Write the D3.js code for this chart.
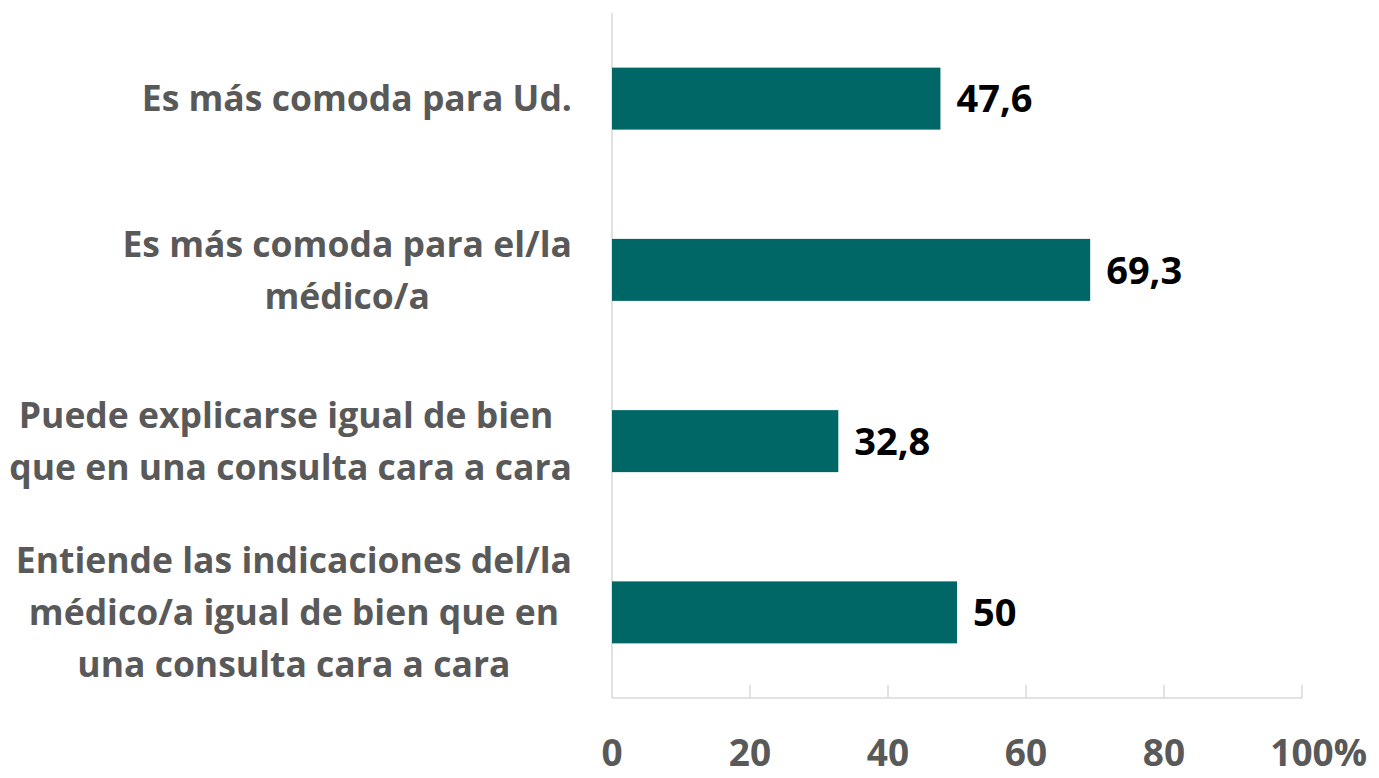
<!DOCTYPE html>
<meta charset="utf-8">
<html>
<head>
<title>Bar chart</title>
<script src="https://d3js.org/d3.v7.min.js"></script>
<style>
body { margin: 0; background: #fff; }
text { font-family: "Open Sans", sans-serif; font-weight: bold; }
.cat { fill: #595959; font-size: 35.5px; }
.val { fill: #000; font-size: 38px; }
.tick-label { fill: #595959; font-size: 37px; }
</style>
</head>
<body>
<svg width="1379" height="778"></svg>
<script>

// data
var categories = [
  ["Es más comoda para Ud."],
  ["Es más comoda para el/la", "médico/a"],
  ["Puede explicarse igual de bien ", "que en una consulta cara a cara"],
  ["Entiende las indicaciones del/la", "médico/a igual de bien que en", "una consulta cara a cara"]
];
var values = [47.6, 69.3, 32.8, 50];
var valueLabels = ["47,6", "69,3", "32,8", "50"];
var tickValues = [0, 20, 40, 60, 80, 100];

var svg = d3.select("svg");

var x = d3.scaleLinear().domain([0, 100]).range([612, 1302]);
var y = d3.scaleBand()
    .domain(d3.range(categories.length))
    .range([13, 698])
    .paddingInner(0.638)
    .paddingOuter(0.319);

// axis lines
svg.append("line")
    .attr("x1", x(0)).attr("x2", x(0))
    .attr("y1", 13).attr("y2", 698)
    .attr("stroke", "#d9d9d9").attr("stroke-width", 1.5);
svg.append("line")
    .attr("x1", x(0)).attr("x2", x(100))
    .attr("y1", 698).attr("y2", 698)
    .attr("stroke", "#d9d9d9").attr("stroke-width", 1.5);

svg.selectAll(".tk")
    .data(tickValues.slice(1))
    .enter().append("line")
    .attr("x1", function(d) { return x(d); })
    .attr("x2", function(d) { return x(d); })
    .attr("y1", 685).attr("y2", 698)
    .attr("stroke", "#d9d9d9").attr("stroke-width", 1.5);

// tick labels, "%" hangs after the last one
var tl = svg.selectAll(".tick-label")
    .data(tickValues)
    .enter().append("text")
    .attr("class", "tick-label")
    .attr("x", function(d) { return x(d); })
    .attr("y", 766)
    .attr("text-anchor", "middle")
    .text(function(d) { return d; });

var last = tl.filter(function(d) { return d === 100; }).node();
var w = last.getComputedTextLength();
svg.append("text")
    .attr("class", "tick-label")
    .attr("x", x(100) + w / 2)
    .attr("y", 766)
    .text("%");

// bars
svg.selectAll(".bar")
    .data(values)
    .enter().append("rect")
    .attr("class", "bar")
    .attr("x", x(0))
    .attr("y", function(d, i) { return y(i); })
    .attr("width", function(d) { return x(d) - x(0); })
    .attr("height", y.bandwidth())
    .attr("fill", "#006766");

svg.selectAll(".val")
    .data(values)
    .enter().append("text")
    .attr("class", "val")
    .attr("x", function(d) { return x(d) + 16; })
    .attr("y", function(d, i) { return y(i) + y.bandwidth() / 2; })
    .attr("dy", "0.36em")
    .text(function(d, i) { return valueLabels[i]; });

// category labels: block right aligned, lines centred in the block
var lineH = 52;
categories.forEach(function(lines, i) {
  var g = svg.append("text").attr("class", "cat").attr("text-anchor", "middle");
  var cy = y(i) + y.bandwidth() / 2;
  var top = cy - (lines.length - 1) * lineH / 2;
  var spans = lines.map(function(s, j) {
    return g.append("tspan").attr("y", top + j * lineH).attr("dy", "0.36em").text(s);
  });
  var maxW = d3.max(spans, function(s) { return s.node().getComputedTextLength(); });
  var cx = 572 - maxW / 2;
  spans.forEach(function(s) { s.attr("x", cx); });
});

</script>
</body>
</html>
